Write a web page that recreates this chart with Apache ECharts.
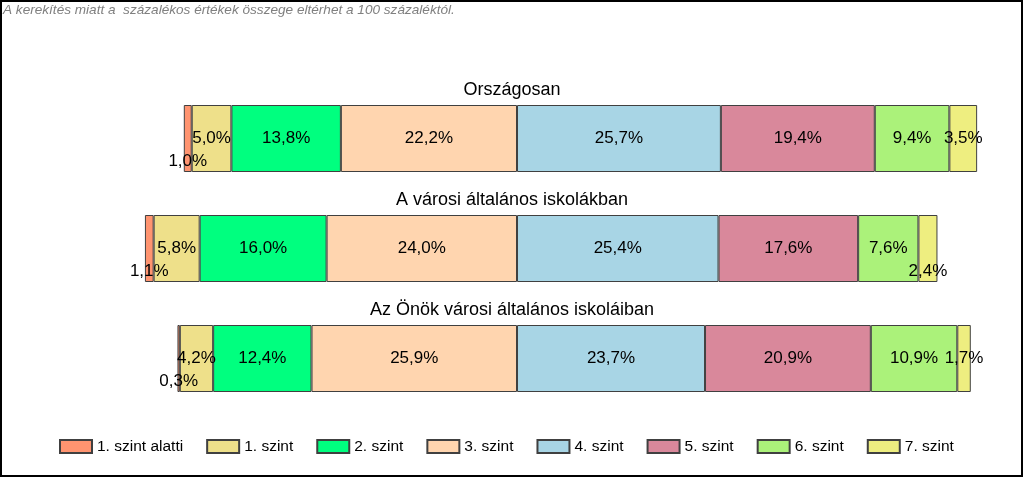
<!DOCTYPE html>
<html>
<head>
<meta charset="utf-8">
<script src="https://cdn.jsdelivr.net/npm/echarts@6/dist/echarts.min.js"></script>
<style>
html,body{margin:0;padding:0;background:#fff;}
#chart{width:1024px;height:478px;}
</style>
</head>
<body>
<div id="chart"></div>
<script>
// ---- data ----
const categories = ['Országosan', 'A városi általános iskolákban', 'Az Önök városi általános iskoláiban'];
const levelNames = ['1. szint alatti', '1. szint', '2. szint', '3. szint', '4. szint', '5. szint', '6. szint', '7. szint'];
const szintAlatti = [1.0, 1.1, 0.3];
const szint1 = [5.0, 5.8, 4.2];
const szint2 = [13.8, 16.0, 12.4];
const szint3 = [22.2, 24.0, 25.9];
const szint4 = [25.7, 25.4, 23.7];
const szint5 = [19.4, 17.6, 20.9];
const szint6 = [9.4, 7.6, 10.9];
const szint7 = [3.5, 2.4, 1.7];
const noteText = 'A kerekítés miatt a  százalékos értékek összege eltérhet a 100 százaléktól.';

// ---- styling / options ----
const colors = {
  '1. szint alatti': '#FF9470',
  '1. szint': '#EEE08A',
  '2. szint': '#00FF7F',
  '3. szint': '#FFD5AF',
  '4. szint': '#A8D5E5',
  '5. szint': '#D9889B',
  '6. szint': '#ABF27A',
  '7. szint': '#EEEE80'
};
// labels shifted below the bar (small segments)
const shifted = { '1. szint alatti': [0, 1, 2], '7. szint': [1] };

const valuesByName = {
  '1. szint alatti': szintAlatti, '1. szint': szint1, '2. szint': szint2, '3. szint': szint3,
  '4. szint': szint4, '5. szint': szint5, '6. szint': szint6, '7. szint': szint7
};
// left side (negative, stacked outward from the 3/4 boundary)
const leftSide = ['3. szint', '2. szint', '1. szint', '1. szint alatti'];
const rightSide = ['4. szint', '5. szint', '6. szint', '7. szint'];

const fontFam = 'Arial, "Liberation Sans", sans-serif';

function makeSeries(name, sign) {
  const vals = valuesByName[name];
  const sh = shifted[name] || [];
  return {
    name: name,
    type: 'bar',
    stack: 'total',
    barWidth: 67,
    itemStyle: { color: colors[name], borderColor: '#404040', borderWidth: 1 },
    label: {
      show: true,
      position: 'inside',
      color: '#000',
      fontSize: 17,
      fontFamily: fontFam,
      formatter: p => Math.abs(p.value).toFixed(1).replace('.', ',') + '%'
    },
    data: vals.map((v, i) => {
      const item = { value: sign * v };
      if (sh.indexOf(i) >= 0) item.label = { offset: [0, 23] };
      return item;
    })
  };
}

const series = leftSide.map(n => makeSeries(n, -1)).concat(rightSide.map(n => makeSeries(n, 1)));

const titles = [{
  text: noteText, left: 3, top: 3, padding: 0,
  textStyle: { fontSize: 13.6, fontStyle: 'italic', fontWeight: 'normal', color: '#808080', fontFamily: fontFam }
}].concat(categories.map((c, i) => ({
  text: c, left: 'center', top: 81 + i * 110, padding: 0,
  textStyle: { fontSize: 18, fontWeight: 'normal', color: '#000', fontFamily: fontFam }
})));

const chart = echarts.init(document.getElementById('chart'));
chart.setOption({
  animation: false,
  backgroundColor: '#fff',
  title: titles,
  graphic: [{
    type: 'rect', silent: true, z: 100,
    shape: { x: 1, y: 1, width: 1021, height: 475 },
    style: { fill: 'none', stroke: '#000', lineWidth: 2 }
  }],
  legend: {
    data: levelNames,
    left: 59, top: 438.5, padding: 0,
    itemWidth: 32, itemHeight: 13, itemGap: 23,
    icon: 'rect',
    textStyle: { fontSize: 15.5, color: '#000', fontFamily: fontFam },
    selectedMode: false
  },
  grid: { left: 41, width: 952, top: 83.5, height: 330 },
  xAxis: { type: 'value', min: -60, max: 60, show: false },
  yAxis: { type: 'category', data: categories, inverse: true, show: false },
  series: series
});
</script>
</body>
</html>
